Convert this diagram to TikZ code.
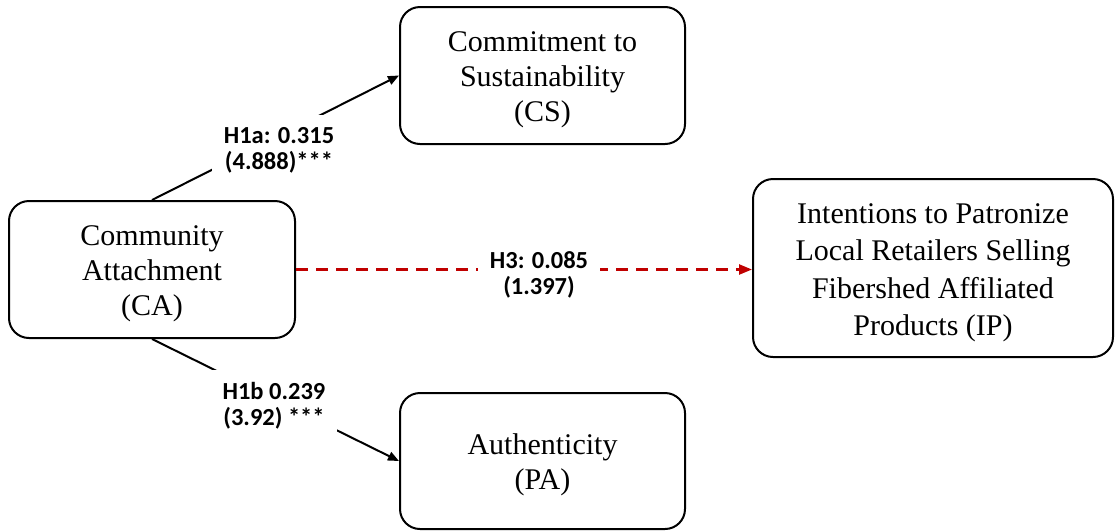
\documentclass[tikz,border=0pt]{standalone}
\usepackage{fontspec}
\setmainfont{Liberation Serif}
\newfontfamily\lblfont{Carlito}
\usetikzlibrary{arrows.meta}
\definecolor{pathred}{HTML}{C00000}
% invisible strut that lowers the text block a little inside its box
\newcommand\toppad{\rule{0pt}{29pt}}
\tikzset{
  construct/.style={draw=black, line width=2pt, rounded corners=20pt, align=center,
    inner sep=0pt, font=\fontsize{30}{35}\selectfont},
  path/.style={line width=2pt, -{Triangle[length=11pt,width=9pt]}},
  weak/.style={line width=2.4pt, draw=pathred, dash pattern=on 12pt off 8pt,
    -{Triangle[length=13pt,width=10pt,fill=pathred]}},
  coef/.style={fill=white, align=center, inner sep=12pt,
    font=\lblfont\bfseries\fontsize{24.5}{26}\selectfont}
}
\begin{document}
\begin{tikzpicture}[x=1pt,y=-1pt]
  \useasboundingbox (0,0) rectangle (1115,531);
  % constructs
  \node[construct, minimum width=286pt, minimum height=137pt] (CA) at (152,269.5)
    {\toppad Community\\Attachment\\(CA)};
  \node[construct, minimum width=285pt, minimum height=137pt] (CS) at (542.5,75.5)
    {\toppad Commitment to\\Sustainability\\(CS)};
  \node[construct, minimum width=285pt, minimum height=136pt] (PA) at (542.5,461)
    {\toppad Authenticity\\(PA)};
  \node[construct, minimum width=360pt, minimum height=178pt,
        font=\fontsize{30}{37.5}\selectfont] (IP) at (933,268)
    {\toppad Intentions to Patronize\\Local Retailers Selling\\Fibershed Affiliated\\Products (IP)};
  % structural paths
  \draw[path] (CA.north) -- (CS.west);
  \draw[path] (CA.south) -- (PA.west);
  \draw[weak] (CA.east) -- (CA.east -| IP.west);
  % path coefficients
  \node[coef] (l1) at (279,150) {H1a: 0.315\\(4.888)***};
  \node[coef] (l2) at (274,405.5) {H1b 0.239\\(3.92) ***};
  \node[coef] (l3) at (539,275) {H3: 0.085\\(1.397)};
\end{tikzpicture}
\end{document}
